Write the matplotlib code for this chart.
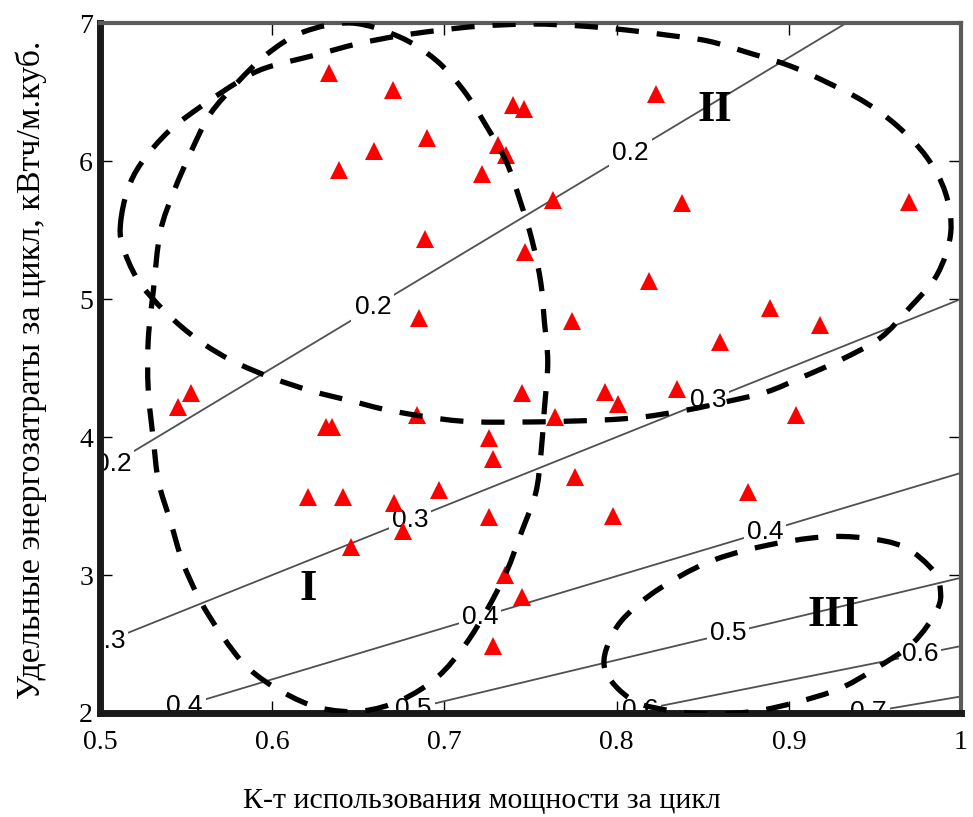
import numpy as np
import matplotlib
matplotlib.use("Agg")
import matplotlib.pyplot as plt
from matplotlib.path import Path
from matplotlib.patches import PathPatch

# ---------------- data ----------------
# measured points (red triangles)
pts_x = [0.633, 0.670, 0.659, 0.639, 0.690, 0.740, 0.746, 0.731, 0.736, 0.722,
         0.689, 0.747, 0.685, 0.763, 0.823, 0.838, 0.970, 0.819, 0.774, 0.889,
         0.918, 0.860, 0.553, 0.545, 0.631, 0.635, 0.684, 0.745, 0.726, 0.728,
         0.621, 0.641, 0.671, 0.676, 0.697, 0.646, 0.726, 0.735, 0.745, 0.728,
         0.793, 0.801, 0.835, 0.764, 0.904, 0.776, 0.876, 0.798]
pts_y = [6.638, 6.514, 6.072, 5.935, 6.167, 6.406, 6.377, 6.116, 6.043, 5.906,
         5.435, 5.341, 4.862, 5.717, 6.486, 5.696, 5.703, 5.130, 4.841, 4.935,
         4.812, 4.688, 4.319, 4.217, 4.072, 4.072, 4.159, 4.319, 3.993, 3.841,
         3.565, 3.565, 3.522, 3.319, 3.616, 3.203, 3.420, 3.000, 2.841, 2.486,
         4.326, 4.239, 4.348, 4.145, 4.159, 3.710, 3.601, 3.428]

# isolines: level and slope y/x
iso_levels = [0.2, 0.3, 0.4, 0.5, 0.6, 0.7]
iso_slopes = [7.5, 5.0, 3.74, 2.98, 2.485, 2.12]
# x positions of inline labels on each isoline
iso_label_x = [[0.5075, 0.6585, 0.8078],
               [0.504, 0.680, 0.853],
               [0.549, 0.7207, 0.8862],
               [0.6818, 0.8647],
               [0.8136, 0.9762],
               [0.946]]

# cluster outlines (dashed closed curves)
zone1_x = [0.646, 0.674, 0.695, 0.711, 0.724, 0.736, 0.744, 0.751, 0.756, 0.758,
           0.760, 0.758, 0.756, 0.753, 0.745, 0.736, 0.725, 0.712, 0.696, 0.675,
           0.652, 0.628, 0.606, 0.586, 0.571, 0.558, 0.548, 0.541, 0.534, 0.531,
           0.528, 0.528, 0.531, 0.535, 0.543, 0.553, 0.564, 0.580, 0.597, 0.618]
zone1_y = [7.000, 6.899, 6.732, 6.514, 6.261, 5.993, 5.710, 5.420, 5.116, 4.841,
           4.543, 4.196, 3.870, 3.594, 3.319, 3.022, 2.754, 2.493, 2.261, 2.094,
           2.014, 2.036, 2.152, 2.326, 2.558, 2.819, 3.094, 3.384, 3.674, 3.978,
           4.341, 4.703, 5.065, 5.486, 5.783, 6.072, 6.341, 6.572, 6.775, 6.935]

zone2_x = [0.512, 0.516, 0.524, 0.540, 0.559, 0.580, 0.596, 0.625, 0.649, 0.673,
           0.698, 0.721, 0.751, 0.780, 0.806, 0.829, 0.853, 0.877, 0.901, 0.923,
           0.944, 0.963, 0.980, 0.991, 0.994, 0.986, 0.970, 0.953, 0.930, 0.908,
           0.887, 0.863, 0.841, 0.815, 0.791, 0.750, 0.709, 0.670, 0.646, 0.623,
           0.600, 0.577, 0.557, 0.538, 0.522, 0.513]
zone2_y = [5.558, 5.790, 5.986, 6.217, 6.399, 6.572, 6.674, 6.768, 6.848, 6.906,
           6.949, 6.978, 6.993, 6.978, 6.949, 6.913, 6.870, 6.783, 6.688, 6.565,
           6.428, 6.254, 6.029, 5.768, 5.478, 5.174, 4.935, 4.717, 4.558, 4.435,
           4.326, 4.254, 4.196, 4.145, 4.123, 4.109, 4.116, 4.188, 4.261, 4.333,
           4.428, 4.551, 4.703, 4.906, 5.138, 5.391]

zone3_x = [0.793, 0.799, 0.815, 0.836, 0.858, 0.888, 0.919, 0.944, 0.967, 0.984,
           0.988, 0.986, 0.972, 0.949, 0.929, 0.905, 0.881, 0.857, 0.833, 0.809]
zone3_y = [2.326, 2.601, 2.812, 2.986, 3.116, 3.217, 3.275, 3.268, 3.203, 3.030,
           2.891, 2.746, 2.507, 2.312, 2.174, 2.080, 2.014, 1.993, 2.014, 2.094]

zone_names = ["I", "II", "III"]
zone_name_x = [0.621, 0.857, 0.926]
zone_name_y = [2.899, 6.370, 2.710]

x_ticks = [0.5, 0.6, 0.7, 0.8, 0.9, 1.0]
x_ticklabels = ["0.5", "0.6", "0.7", "0.8", "0.9", "1"]
y_ticks = [2, 3, 4, 5, 6, 7]
y_ticklabels = ["2", "3", "4", "5", "6", "7"]

xlabel = "К-т использования мощности за цикл"
ylabel = "Удельные энергозатраты за цикл, кВтч/м.куб."

# ---------------- helpers ----------------
def closed_smooth_path(xs, ys):
    P = np.column_stack([xs, ys])
    n = len(P)
    verts = [P[0]]
    codes = [Path.MOVETO]
    for i in range(n):
        p0 = P[(i - 1) % n]
        p1 = P[i]
        p2 = P[(i + 1) % n]
        p3 = P[(i + 2) % n]
        c1 = p1 + (p2 - p0) / 6.0
        c2 = p2 - (p3 - p1) / 6.0
        verts += [c1, c2, p2]
        codes += [Path.CURVE4] * 3
    return Path(verts, codes)

# ---------------- figure ----------------
serif = "Liberation Serif"
fig = plt.figure(figsize=(9.73, 8.17), dpi=100)
ax = fig.add_axes([0.1028, 0.1273, 0.8849, 0.8445])
ax.set_xlim(0.5, 1.0)
ax.set_ylim(2, 7)

# isolines
for lev, s, lxs in zip(iso_levels, iso_slopes, iso_label_x):
    ax.axline((0, 0), slope=s, color="#505050", lw=1.3, zorder=2)
    for lx in lxs:
        ax.text(lx, s * lx, f"{lev:.1f}", fontsize=19, family="Liberation Sans",
                ha="center", va="center", zorder=2.2, clip_on=True,
                bbox=dict(boxstyle="square,pad=0.12", fc="white", ec="none"))

# points
ax.plot(pts_x, pts_y, linestyle="none", marker="^", ms=13.5, color="#ff0000",
        markeredgewidth=0, zorder=3)

# zones
for zx, zy in [(zone1_x, zone1_y), (zone2_x, zone2_y), (zone3_x, zone3_y)]:
    patch = PathPatch(closed_smooth_path(zx, zy), fill=False, edgecolor="black",
                      lw=3.8, linestyle=(0, (4.4, 3.4)), zorder=4,
                      capstyle="butt")
    ax.add_patch(patch)

for name, nx, ny in zip(zone_names, zone_name_x, zone_name_y):
    ax.text(nx, ny, name, fontsize=32, family=serif, fontweight="bold",
            ha="center", va="center", zorder=5)

# axes styling
ax.set_xticks(x_ticks)
ax.set_xticklabels(x_ticklabels, family=serif)
ax.set_yticks(y_ticks)
ax.set_yticklabels(y_ticklabels, family=serif)
ax.tick_params(direction="in", length=8.5, width=1, top=True, right=True,
               labelsize=20, colors="black")
ax.tick_params(axis="x", pad=12)
ax.tick_params(axis="y", pad=5)

for side in ["left", "bottom"]:
    ax.spines[side].set_linewidth(5)
    ax.spines[side].set_color("#1a1a1a")
for side in ["top", "right"]:
    ax.spines[side].set_linewidth(3.0)
    ax.spines[side].set_color("#5a5a5a")

fig.text(482 / 973, 1 - 801 / 817, xlabel, fontsize=21.5, family=serif,
         ha="center", va="center")
fig.text(31 / 973, 1 - 370 / 817, ylabel, fontsize=24.5, family=serif,
         ha="center", va="center", rotation=90)

fig.savefig("out.png", dpi=100)
